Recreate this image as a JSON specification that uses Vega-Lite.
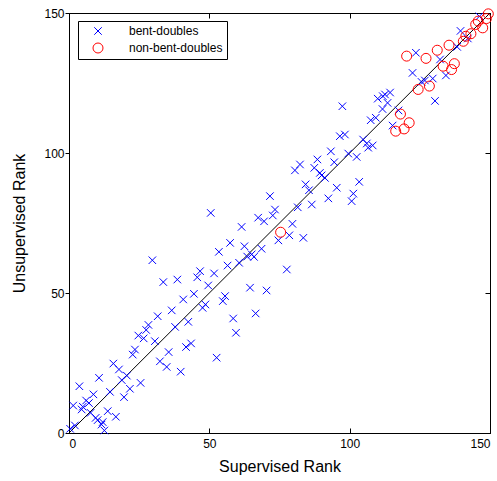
{
  "$schema": "https://vega.github.io/schema/vega-lite/v6.json",
  "width": 421,
  "height": 420,
  "autosize": {"type": "none"},
  "padding": {"left": 69, "top": 13, "right": 7, "bottom": 48},
  "background": "white",
  "config": {
    "font": "Liberation Sans",
    "view": {"stroke": "black", "strokeWidth": 1},
    "axis": {
      "grid": false,
      "domainColor": "black",
      "tickColor": "black",
      "labelColor": "black",
      "titleColor": "black",
      "labelFont": "Liberation Sans",
      "titleFont": "Liberation Sans",
      "labelFontSize": 12,
      "titleFontSize": 16,
      "titleFontWeight": "normal",
      "domainWidth": 1,
      "tickWidth": 1
    },
    "legend": {
      "orient": "none",
      "legendX": 9,
      "legendY": 8,
      "strokeColor": "black",
      "fillColor": "white",
      "padding": 4,
      "cornerRadius": 0,
      "labelFont": "Liberation Sans",
      "labelFontSize": 12,
      "labelColor": "black",
      "symbolStrokeWidth": 1,
      "symbolSize": 100,
      "rowPadding": 4,
      "symbolOffset": 10,
      "labelOffset": 25
    }
  },
  "layer": [
    {
      "data": {"values": [{"x": 0, "y": 0}, {"x": 150, "y": 150}]},
      "mark": {"type": "line", "color": "black", "strokeWidth": 1},
      "encoding": {
        "x": {
          "field": "x", "type": "quantitative",
          "scale": {"domain": [0, 150], "nice": false, "zero": false},
          "axis": {"orient": "top", "labels": false, "title": null, "values": [0, 50, 100, 150], "tickSize": -5, "domain": true}
        },
        "y": {
          "field": "y", "type": "quantitative",
          "scale": {"domain": [0, 150], "nice": false, "zero": false},
          "axis": {"orient": "right", "labels": false, "title": null, "values": [0, 50, 100, 150], "tickSize": -5, "domain": true}
        }
      }
    },
    {
      "data": {"values": [
        {"supervised": 40.7, "unsupervised": 47.7, "type": "bent-doubles"},
        {"supervised": 48.6, "unsupervised": 45.9, "type": "bent-doubles"},
        {"supervised": 47.6, "unsupervised": 44.7, "type": "bent-doubles"},
        {"supervised": 36.6, "unsupervised": 43.8, "type": "bent-doubles"},
        {"supervised": 31.6, "unsupervised": 41.7, "type": "bent-doubles"},
        {"supervised": 42.5, "unsupervised": 39.7, "type": "bent-doubles"},
        {"supervised": 28.3, "unsupervised": 38.6, "type": "bent-doubles"},
        {"supervised": 27.5, "unsupervised": 36.8, "type": "bent-doubles"},
        {"supervised": 24.7, "unsupervised": 34.8, "type": "bent-doubles"},
        {"supervised": 26.6, "unsupervised": 33.8, "type": "bent-doubles"},
        {"supervised": 30.6, "unsupervised": 32.8, "type": "bent-doubles"},
        {"supervised": 37.8, "unsupervised": 37.9, "type": "bent-doubles"},
        {"supervised": 41.7, "unsupervised": 30.7, "type": "bent-doubles"},
        {"supervised": 43.5, "unsupervised": 32.0, "type": "bent-doubles"},
        {"supervised": 23.5, "unsupervised": 29.8, "type": "bent-doubles"},
        {"supervised": 22.7, "unsupervised": 28.0, "type": "bent-doubles"},
        {"supervised": 35.5, "unsupervised": 28.9, "type": "bent-doubles"},
        {"supervised": 32.4, "unsupervised": 25.6, "type": "bent-doubles"},
        {"supervised": 34.8, "unsupervised": 23.6, "type": "bent-doubles"},
        {"supervised": 15.8, "unsupervised": 24.8, "type": "bent-doubles"},
        {"supervised": 17.8, "unsupervised": 22.7, "type": "bent-doubles"},
        {"supervised": 39.8, "unsupervised": 21.9, "type": "bent-doubles"},
        {"supervised": 20.6, "unsupervised": 20.5, "type": "bent-doubles"},
        {"supervised": 10.7, "unsupervised": 19.7, "type": "bent-doubles"},
        {"supervised": 18.8, "unsupervised": 18.9, "type": "bent-doubles"},
        {"supervised": 25.5, "unsupervised": 17.9, "type": "bent-doubles"},
        {"supervised": 3.7, "unsupervised": 16.7, "type": "bent-doubles"},
        {"supervised": 21.7, "unsupervised": 15.8, "type": "bent-doubles"},
        {"supervised": 14.6, "unsupervised": 14.7, "type": "bent-doubles"},
        {"supervised": 8.7, "unsupervised": 13.8, "type": "bent-doubles"},
        {"supervised": 6.1, "unsupervised": 11.6, "type": "bent-doubles"},
        {"supervised": 7.1, "unsupervised": 10.7, "type": "bent-doubles"},
        {"supervised": 4.9, "unsupervised": 9.4, "type": "bent-doubles"},
        {"supervised": 4.5, "unsupervised": 8.4, "type": "bent-doubles"},
        {"supervised": 19.6, "unsupervised": 12.8, "type": "bent-doubles"},
        {"supervised": 1.5, "unsupervised": 9.8, "type": "bent-doubles"},
        {"supervised": 7.7, "unsupervised": 7.2, "type": "bent-doubles"},
        {"supervised": 13.8, "unsupervised": 7.8, "type": "bent-doubles"},
        {"supervised": 16.7, "unsupervised": 5.8, "type": "bent-doubles"},
        {"supervised": 9.5, "unsupervised": 5.4, "type": "bent-doubles"},
        {"supervised": 10.2, "unsupervised": 4.6, "type": "bent-doubles"},
        {"supervised": 12.0, "unsupervised": 3.9, "type": "bent-doubles"},
        {"supervised": 11.6, "unsupervised": 3.0, "type": "bent-doubles"},
        {"supervised": 12.6, "unsupervised": 0.9, "type": "bent-doubles"},
        {"supervised": 2.1, "unsupervised": 2.7, "type": "bent-doubles"},
        {"supervised": 0.4, "unsupervised": 1.5, "type": "bent-doubles"},
        {"supervised": 50.5, "unsupervised": 78.6, "type": "bent-doubles"},
        {"supervised": 67.4, "unsupervised": 76.9, "type": "bent-doubles"},
        {"supervised": 69.5, "unsupervised": 75.6, "type": "bent-doubles"},
        {"supervised": 61.5, "unsupervised": 73.6, "type": "bent-doubles"},
        {"supervised": 29.7, "unsupervised": 61.7, "type": "bent-doubles"},
        {"supervised": 57.4, "unsupervised": 67.9, "type": "bent-doubles"},
        {"supervised": 62.5, "unsupervised": 66.7, "type": "bent-doubles"},
        {"supervised": 53.4, "unsupervised": 64.7, "type": "bent-doubles"},
        {"supervised": 68.6, "unsupervised": 65.8, "type": "bent-doubles"},
        {"supervised": 63.5, "unsupervised": 63.0, "type": "bent-doubles"},
        {"supervised": 65.1, "unsupervised": 63.8, "type": "bent-doubles"},
        {"supervised": 65.9, "unsupervised": 62.9, "type": "bent-doubles"},
        {"supervised": 60.6, "unsupervised": 60.8, "type": "bent-doubles"},
        {"supervised": 56.5, "unsupervised": 59.8, "type": "bent-doubles"},
        {"supervised": 46.7, "unsupervised": 57.8, "type": "bent-doubles"},
        {"supervised": 45.7, "unsupervised": 55.6, "type": "bent-doubles"},
        {"supervised": 51.7, "unsupervised": 57.0, "type": "bent-doubles"},
        {"supervised": 38.6, "unsupervised": 54.8, "type": "bent-doubles"},
        {"supervised": 33.6, "unsupervised": 53.9, "type": "bent-doubles"},
        {"supervised": 49.6, "unsupervised": 52.7, "type": "bent-doubles"},
        {"supervised": 64.5, "unsupervised": 51.9, "type": "bent-doubles"},
        {"supervised": 70.4, "unsupervised": 50.9, "type": "bent-doubles"},
        {"supervised": 44.5, "unsupervised": 49.7, "type": "bent-doubles"},
        {"supervised": 55.6, "unsupervised": 48.9, "type": "bent-doubles"},
        {"supervised": 54.8, "unsupervised": 47.1, "type": "bent-doubles"},
        {"supervised": 58.5, "unsupervised": 40.9, "type": "bent-doubles"},
        {"supervised": 66.5, "unsupervised": 42.7, "type": "bent-doubles"},
        {"supervised": 59.5, "unsupervised": 35.8, "type": "bent-doubles"},
        {"supervised": 52.6, "unsupervised": 26.9, "type": "bent-doubles"},
        {"supervised": 77.6, "unsupervised": 58.4, "type": "bent-doubles"},
        {"supervised": 96.5, "unsupervised": 106.0, "type": "bent-doubles"},
        {"supervised": 98.3, "unsupervised": 106.6, "type": "bent-doubles"},
        {"supervised": 104.8, "unsupervised": 104.8, "type": "bent-doubles"},
        {"supervised": 106.1, "unsupervised": 103.4, "type": "bent-doubles"},
        {"supervised": 106.6, "unsupervised": 101.9, "type": "bent-doubles"},
        {"supervised": 108.2, "unsupervised": 102.7, "type": "bent-doubles"},
        {"supervised": 93.3, "unsupervised": 100.6, "type": "bent-doubles"},
        {"supervised": 99.5, "unsupervised": 99.8, "type": "bent-doubles"},
        {"supervised": 102.5, "unsupervised": 98.6, "type": "bent-doubles"},
        {"supervised": 88.5, "unsupervised": 97.7, "type": "bent-doubles"},
        {"supervised": 82.3, "unsupervised": 95.9, "type": "bent-doubles"},
        {"supervised": 80.5, "unsupervised": 93.8, "type": "bent-doubles"},
        {"supervised": 94.5, "unsupervised": 96.7, "type": "bent-doubles"},
        {"supervised": 87.4, "unsupervised": 94.7, "type": "bent-doubles"},
        {"supervised": 89.4, "unsupervised": 92.9, "type": "bent-doubles"},
        {"supervised": 90.0, "unsupervised": 92.0, "type": "bent-doubles"},
        {"supervised": 91.2, "unsupervised": 91.1, "type": "bent-doubles"},
        {"supervised": 103.4, "unsupervised": 89.7, "type": "bent-doubles"},
        {"supervised": 84.3, "unsupervised": 88.8, "type": "bent-doubles"},
        {"supervised": 85.5, "unsupervised": 86.7, "type": "bent-doubles"},
        {"supervised": 95.4, "unsupervised": 87.6, "type": "bent-doubles"},
        {"supervised": 101.3, "unsupervised": 85.5, "type": "bent-doubles"},
        {"supervised": 100.7, "unsupervised": 82.8, "type": "bent-doubles"},
        {"supervised": 92.4, "unsupervised": 83.8, "type": "bent-doubles"},
        {"supervised": 71.6, "unsupervised": 84.6, "type": "bent-doubles"},
        {"supervised": 86.5, "unsupervised": 81.6, "type": "bent-doubles"},
        {"supervised": 81.5, "unsupervised": 80.6, "type": "bent-doubles"},
        {"supervised": 73.4, "unsupervised": 79.8, "type": "bent-doubles"},
        {"supervised": 72.6, "unsupervised": 77.7, "type": "bent-doubles"},
        {"supervised": 79.6, "unsupervised": 74.7, "type": "bent-doubles"},
        {"supervised": 78.5, "unsupervised": 70.6, "type": "bent-doubles"},
        {"supervised": 74.6, "unsupervised": 68.8, "type": "bent-doubles"},
        {"supervised": 83.5, "unsupervised": 69.7, "type": "bent-doubles"},
        {"supervised": 97.4, "unsupervised": 116.7, "type": "bent-doubles"},
        {"supervised": 110.0, "unsupervised": 119.4, "type": "bent-doubles"},
        {"supervised": 111.8, "unsupervised": 120.3, "type": "bent-doubles"},
        {"supervised": 112.6, "unsupervised": 120.9, "type": "bent-doubles"},
        {"supervised": 114.4, "unsupervised": 121.6, "type": "bent-doubles"},
        {"supervised": 113.5, "unsupervised": 117.9, "type": "bent-doubles"},
        {"supervised": 111.7, "unsupervised": 115.7, "type": "bent-doubles"},
        {"supervised": 107.5, "unsupervised": 111.7, "type": "bent-doubles"},
        {"supervised": 109.3, "unsupervised": 112.6, "type": "bent-doubles"},
        {"supervised": 115.3, "unsupervised": 109.8, "type": "bent-doubles"},
        {"supervised": 130.4, "unsupervised": 118.6, "type": "bent-doubles"},
        {"supervised": 117.4, "unsupervised": 115.2, "type": "bent-doubles"},
        {"supervised": 122.4, "unsupervised": 128.6, "type": "bent-doubles"},
        {"supervised": 125.6, "unsupervised": 125.4, "type": "bent-doubles"},
        {"supervised": 126.8, "unsupervised": 125.9, "type": "bent-doubles"},
        {"supervised": 129.6, "unsupervised": 126.6, "type": "bent-doubles"},
        {"supervised": 134.3, "unsupervised": 127.7, "type": "bent-doubles"},
        {"supervised": 132.2, "unsupervised": 133.4, "type": "bent-doubles"},
        {"supervised": 123.6, "unsupervised": 135.8, "type": "bent-doubles"},
        {"supervised": 138.3, "unsupervised": 137.9, "type": "bent-doubles"},
        {"supervised": 139.5, "unsupervised": 143.6, "type": "bent-doubles"},
        {"supervised": 142.1, "unsupervised": 140.9, "type": "bent-doubles"},
        {"supervised": 146.2, "unsupervised": 148.8, "type": "bent-doubles"},
        {"supervised": 75.4, "unsupervised": 71.7, "type": "non-bent-doubles"},
        {"supervised": 118.1, "unsupervised": 113.9, "type": "non-bent-doubles"},
        {"supervised": 121.2, "unsupervised": 110.8, "type": "non-bent-doubles"},
        {"supervised": 119.4, "unsupervised": 108.6, "type": "non-bent-doubles"},
        {"supervised": 116.4, "unsupervised": 107.8, "type": "non-bent-doubles"},
        {"supervised": 124.4, "unsupervised": 122.7, "type": "non-bent-doubles"},
        {"supervised": 128.4, "unsupervised": 123.9, "type": "non-bent-doubles"},
        {"supervised": 120.3, "unsupervised": 134.6, "type": "non-bent-doubles"},
        {"supervised": 127.2, "unsupervised": 133.8, "type": "non-bent-doubles"},
        {"supervised": 131.2, "unsupervised": 136.7, "type": "non-bent-doubles"},
        {"supervised": 135.4, "unsupervised": 138.5, "type": "non-bent-doubles"},
        {"supervised": 133.3, "unsupervised": 131.0, "type": "non-bent-doubles"},
        {"supervised": 136.3, "unsupervised": 129.8, "type": "non-bent-doubles"},
        {"supervised": 137.3, "unsupervised": 131.9, "type": "non-bent-doubles"},
        {"supervised": 140.5, "unsupervised": 139.9, "type": "non-bent-doubles"},
        {"supervised": 141.4, "unsupervised": 141.7, "type": "non-bent-doubles"},
        {"supervised": 143.2, "unsupervised": 142.6, "type": "non-bent-doubles"},
        {"supervised": 144.9, "unsupervised": 145.9, "type": "non-bent-doubles"},
        {"supervised": 145.8, "unsupervised": 147.1, "type": "non-bent-doubles"},
        {"supervised": 147.4, "unsupervised": 144.7, "type": "non-bent-doubles"},
        {"supervised": 148.7, "unsupervised": 148.0, "type": "non-bent-doubles"},
        {"supervised": 149.4, "unsupervised": 149.7, "type": "non-bent-doubles"}
      ]},
      "mark": {"type": "point", "filled": false, "strokeWidth": 1, "size": 100, "opacity": 1},
      "encoding": {
        "x": {
          "field": "supervised", "type": "quantitative",
          "scale": {"domain": [0, 150], "nice": false, "zero": false},
          "axis": {"orient": "bottom", "title": "Supervised Rank", "values": [0, 50, 100, 150], "tickSize": -5, "labelPadding": 10, "titlePadding": 9}
        },
        "y": {
          "field": "unsupervised", "type": "quantitative",
          "scale": {"domain": [0, 150], "nice": false, "zero": false},
          "axis": {"orient": "left", "title": "Unsupervised Rank", "values": [0, 50, 100, 150], "tickSize": 4, "labelPadding": 1, "titlePadding": 16}
        },
        "color": {
          "field": "type", "type": "nominal",
          "scale": {"domain": ["bent-doubles", "non-bent-doubles"], "range": ["#0000ff", "#ff0000"]},
          "legend": {"title": null}
        },
        "shape": {
          "field": "type", "type": "nominal",
          "scale": {"domain": ["bent-doubles", "non-bent-doubles"], "range": ["M-0.75,-0.75L0.75,0.75M-0.75,0.75L0.75,-0.75", "circle"]},
          "legend": {"title": null}
        }
      }
    }
  ],
  "resolve": {"axis": {"x": "independent", "y": "independent"}}
}
